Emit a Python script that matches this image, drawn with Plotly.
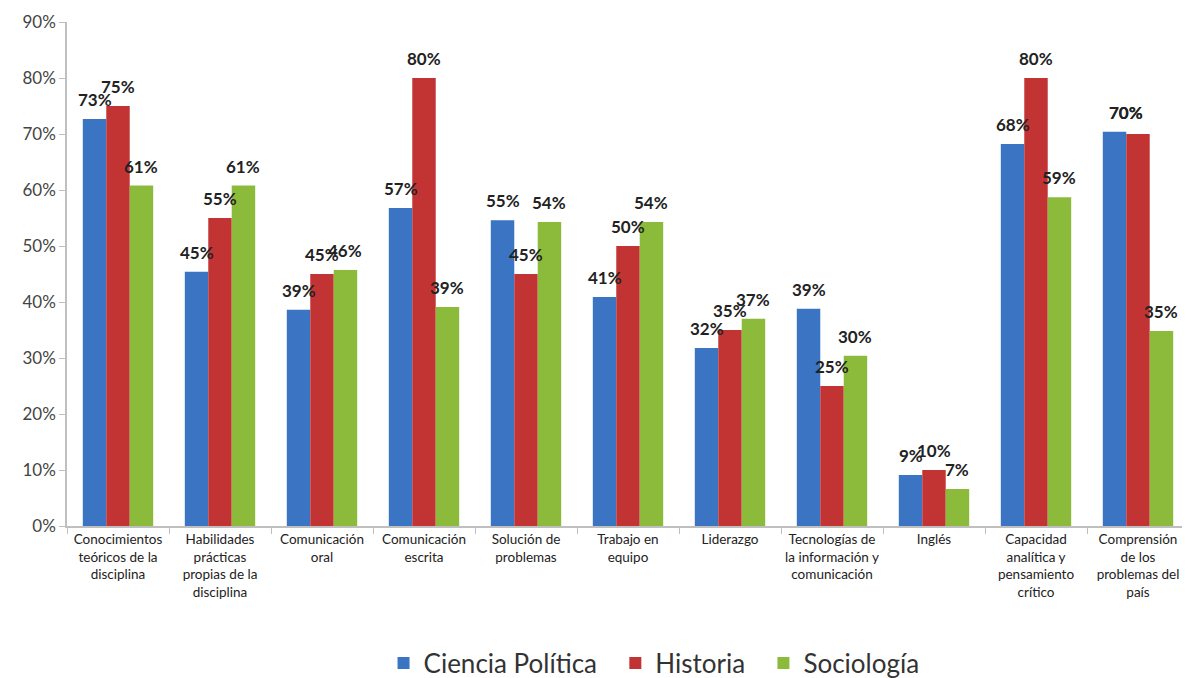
import plotly.graph_objects as go

categories = [
    "Conocimientos<br>teóricos de la<br>disciplina",
    "Habilidades<br>prácticas<br>propias de la<br>disciplina",
    "Comunicación<br>oral",
    "Comunicación<br>escrita",
    "Solución de<br>problemas",
    "Trabajo en<br>equipo",
    "Liderazgo",
    "Tecnologías de<br>la información y<br>comunicación",
    "Inglés",
    "Capacidad<br>analítica y<br>pensamiento<br>crítico",
    "Comprensión<br>de los<br>problemas del<br>país",
]
ciencia_politica = [72.7, 45.4, 38.6, 56.8, 54.6, 40.9, 31.8, 38.8, 9.1, 68.2, 70.4]
historia = [75.0, 55.0, 45.0, 80.0, 45.0, 50.0, 35.0, 25.0, 10.0, 80.0, 70.0]
sociologia = [60.8, 60.8, 45.7, 39.1, 54.3, 54.3, 37.0, 30.4, 6.6, 58.7, 34.8]
series_names = ["Ciencia Política", "Historia", "Sociología"]
series_colors = ["#3a74c2", "#c23333", "#8cbb3c"]
y_ticks = [0, 10, 20, 30, 40, 50, 60, 70, 80, 90]
y_tick_labels = ["0%", "10%", "20%", "30%", "40%", "50%", "60%", "70%", "80%", "90%"]

BARGAP = 0.31
bar_w = (1 - BARGAP) / 3
FONT = "Lato, Open Sans, sans-serif"
# in the original, the two 70% labels of the last group sit on top of each other
# (slot offset in bar widths, extra vertical shift in px)
label_override = {(0, 10): (-0.5, 7), (1, 10): (-0.5, 9)}

fig = go.Figure()
all_series = [ciencia_politica, historia, sociologia]
for name, vals, col in zip(series_names, all_series, series_colors):
    fig.add_trace(go.Bar(
        x=categories, y=vals, name=name + "\u00a0" * 2,
        marker=dict(color=col, line=dict(width=0)),
        cliponaxis=False,
    ))

# value labels above each bar
for s, vals in enumerate(all_series):
    for i, v in enumerate(vals):
        slot, ys = label_override.get((s, i), (s - 1, 7))
        fig.add_annotation(
            x=i + slot * bar_w, y=v, xref="x", yref="y",
            text=f"<b>{round(v)}%</b>", showarrow=False,
            yanchor="bottom", yshift=ys,
            font=dict(family=FONT, size=17, color="#222222"),
        )

fig.update_layout(
    barmode="group",
    bargap=BARGAP,
    bargroupgap=0,
    width=1182, height=670,
    paper_bgcolor="white", plot_bgcolor="white",
    margin=dict(l=59, r=1, t=14, b=152, autoexpand=False),
    font=dict(family=FONT, color="#333333"),
    legend=dict(
        orientation="h", x=0.529, xanchor="center", y=-0.272, yanchor="middle",
        font=dict(size=26, color="#333333"), itemwidth=30,
        traceorder="normal",
    ),
    showlegend=True,
)
fig.update_yaxes(
    range=[0, 90], tickmode="array", tickvals=y_ticks, ticktext=y_tick_labels,
    showgrid=False, zeroline=False, automargin=False,
    showline=True, linecolor="#bfbfbf", linewidth=1.5,
    ticks="outside", ticklen=6, tickcolor="#bfbfbf",
    tickfont=dict(size=17, color="#444444"),
)
fig.update_xaxes(
    showgrid=False, showline=True, linecolor="#bfbfbf", linewidth=1.5,
    ticks="outside", ticklen=6, tickcolor="#bfbfbf", tickson="boundaries",
    tickfont=dict(size=13.5, color="#222222"), automargin=False,
    tickangle=0,
)

fig.write_html("out.html")
